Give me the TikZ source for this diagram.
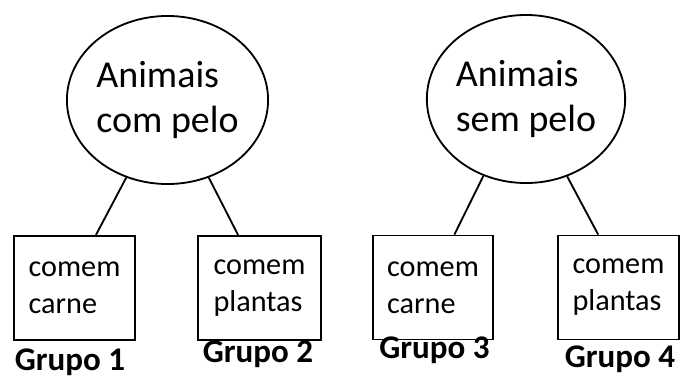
\documentclass[tikz,border=0pt]{standalone}
\usepackage{fontspec}
\setmainfont{Carlito}
\usetikzlibrary{positioning,shapes.geometric}

\begin{document}
\begin{tikzpicture}[x=0.025cm, y=0.025cm, line width=1.3pt,
    grupo/.style={ellipse, draw, minimum width=4.9cm, minimum height=4.2cm, align=left, inner sep=0pt, font=\fontsize{27}{31.3}\selectfont},
    caixa/.style={rectangle, draw, minimum height=2.6cm, align=left, inner sep=0pt, font=\fontsize{21.5}{26.3}\selectfont},
    rotulo/.style={anchor=base, font=\bfseries\fontsize{23.5}{28}\selectfont}]
    \useasboundingbox (0, 0) rectangle (681, 378);

    % Elipses
    \node[grupo] (compelo) at (167.5, 278) {Animais\\com pelo};
    \node[grupo] (sempelo) at (526, 279) {Animais\\sem pelo};

    % Caixas
    \node[caixa, minimum width=3.03cm] (carne1) at (74.5, 90) {comem\\carne};
    \node[caixa, minimum width=3.08cm] (plantas1) at (259.5, 90) {comem\\plantas};
    \node[caixa, minimum width=3.0cm] (carne2) at (433, 90.5) {comem\\carne};
    \node[caixa, minimum width=3.03cm] (plantas2) at (618.5, 90.5) {comem\\plantas};

    % Ligações
    \draw (compelo.242) -- (carne1.68);
    \draw (compelo.298) -- (plantas1.112);
    \draw (sempelo.241) -- (carne2.68);
    \draw (sempelo.298) -- (plantas2.111);

    % Rótulos
    \node[rotulo] (g1) at (70, 8) {Grupo 1};
    \node[rotulo] (g2) at (258, 16) {Grupo 2};
    \node[rotulo] (g3) at (434.5, 20) {Grupo 3};
    \node[rotulo] (g4) at (620, 11) {Grupo 4};
\end{tikzpicture}
\end{document}
